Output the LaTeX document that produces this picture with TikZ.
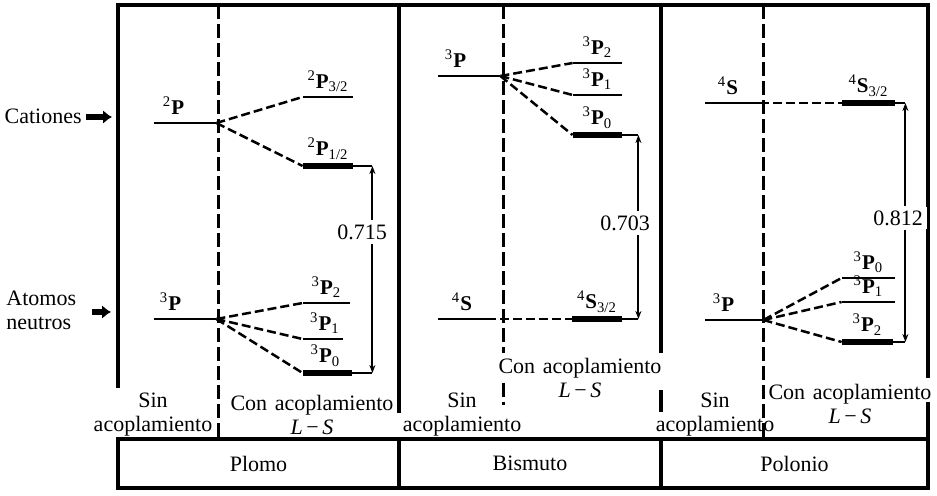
\documentclass[tikz,border=0pt]{standalone}
\usepackage{fontspec}
\setmainfont{Liberation Serif}
\usetikzlibrary{arrows.meta,positioning}
\newcommand{\lv}[3]{\textsuperscript{#1}\textbf{#2}\textsubscript{#3}}
\newcommand{\conLS}{Con\hspace{.35em}acoplamiento\\\textit{L}\,−\,\textit{S}}

\begin{document}
\begin{tikzpicture}[x=0.5pt, y=-0.5pt, font=\fontsize{11}{12}\selectfont,
  frame/.style={line width=1.6pt},
  sep/.style={line width=1.5pt, dash pattern=on 7pt off 2.5pt},
  lev/.style={fill, inner sep=0pt, minimum height=1.4pt, minimum width=#1},
  lev/.default=25pt,
  hlev/.style={lev=#1, minimum height=3pt},
  hlev/.default=25pt,
  lbl/.style={font=\fontsize{10.5}{12}\selectfont, inner sep=1.5pt},
  con/.style={line width=1.25pt, dash pattern=on 4.5pt off 2pt},
  tick/.style={line width=1pt},
  brk/.style={line width=1pt, -{Stealth[length=4pt, width=3pt]}},
  big/.style={line width=2.6pt, -{Latex[length=4.5pt, width=7pt]}},
  gap/.style={fill=white, inner sep=2pt}]
  \useasboundingbox (0,0) rectangle (937,496);
  % frame and panels
  \draw[frame] (118,388) -- (118,5) -- (928,5) -- (928,378);
  \draw[frame] (928,402) -- (928,439);
  \draw[frame] (118,439) rectangle (928,488);
  \draw[frame] (399,5) -- (399,413) (399,439) -- (399,488);
  \draw[frame] (661,5) -- (661,353) (661,390) -- (661,412) (661,439) -- (661,488);
  \draw[sep] (218,5) -- (218,439);
  \draw[sep] (503,5) -- (503,353) (503,383) -- (503,405);
  \draw[sep] (763,5) -- (763,437);
  % left labels
  \node[anchor=east, inner sep=2pt] (cat) at (86,116) {Cationes};
  \coordinate (catP) at (112,117);
  \draw[big] (cat.east |- catP) -- (catP);
  \node[anchor=west, align=left, inner sep=0pt] (neu) at (6,310) {Atomos\\neutros};
  \coordinate (neuA) at (92,312);
  \coordinate (neuP) at (111,312);
  \draw[big] (neuA) -- (neuP);
  % Plomo
  \node[lev=31pt, label={[lbl, xshift=-5.5pt]above:\lv{2}{P}{}}] (pbC) at (185,123) {};
  \node[lev, label={[lbl]above:\lv{2}{P}{3/2}}] (pbC32) at (328,97) {};
  \node[hlev, label={[lbl]above:\lv{2}{P}{1/2}}] (pbC12) at (328,166) {};
  \node[lev=31pt, label={[lbl, xshift=-7pt]above:\lv{3}{P}{}}] (pbN) at (185,319) {};
  \node[lev=23.5pt, label={[lbl]above:\lv{3}{P}{2}}] (pbN2) at (326.5,303) {};
  \node[lev=20pt, label={[lbl, xshift=1pt]above:\lv{3}{P}{1}}] (pbN1) at (323,339) {};
  \node[hlev=24.5pt, label={[lbl, xshift=-1pt]above:\lv{3}{P}{0}}] (pbN0) at (327.5,373) {};
  \foreach \t in {pbC32,pbC12} \draw[con] (pbC.east) -- (\t.west);
  \foreach \t in {pbN2,pbN1,pbN0} \draw[con] (pbN.east) -- (\t.west);
  \draw[tick] (pbC12.east) -- ++(19,0) coordinate (pbT);
  \draw[tick] (pbN0.east) -- (pbN0.east -| pbT) coordinate (pbB);
  \node[gap] (pbE) at (362,232) {0.715};
  \draw[brk] (pbE.north -| pbT) -- (pbT);
  \draw[brk] (pbE.south -| pbT) -- (pbB);
  % Bismuto
  \node[lev=31pt, label={[lbl, xshift=-6.5pt]above:\lv{3}{P}{}}] (biC) at (469,76) {};
  \node[lev=24.5pt, label={[lbl]above:\lv{3}{P}{2}}] (biC2) at (597.5,63) {};
  \node[lev=24.5pt, label={[lbl]above:\lv{3}{P}{1}}] (biC1) at (597.5,95) {};
  \node[hlev=24.5pt, label={[lbl]above:\lv{3}{P}{0}}] (biC0) at (597.5,135) {};
  \node[lev=24.5pt, label={[lbl]above:\lv{4}{S}{}}] (biN) at (462.5,319) {};
  \node[hlev, label={[lbl]above:\lv{4}{S}{3/2}}] (biN32) at (597,319) {};
  \foreach \t in {biC2,biC1,biC0} \draw[con] (biC.east) -- (\t.west);
  \draw[con] (biN.east) -- (biN32.west);
  \draw[tick] (biC0.east) -- ++(16,0) coordinate (biT);
  \draw[tick] (biN32.east) -- (biN32.east -| biT) coordinate (biB);
  \node[gap] (biE) at (625,223) {0.703};
  \draw[brk] (biE.north -| biT) -- (biT);
  \draw[brk] (biE.south -| biT) -- (biB);
  % Polonio
  \node[lev=27.5pt, label={[lbl, xshift=-2pt]above:\lv{4}{S}{}}] (poC) at (732.5,103) {};
  \node[hlev=26.5pt, label={[lbl]above:\lv{4}{S}{3/2}}] (poC32) at (868.5,103) {};
  \node[lev=29pt, label={[lbl, xshift=-5pt]above:\lv{3}{P}{}}] (poN) at (734,320) {};
  \node[lev=26.5pt, label={[lbl]above:\lv{3}{P}{0}}] (poN0) at (868.5,278) {};
  \node[lev=26.5pt, label={[lbl]above:\lv{3}{P}{1}}] (poN1) at (868.5,302) {};
  \node[hlev=25.5pt, label={[lbl]above:\lv{3}{P}{2}}] (poN2) at (867.5,342) {};
  \draw[con] (poC.east) -- (poC32.west);
  \foreach \t in {poN0,poN1,poN2} \draw[con] (poN.east) -- (\t.west);
  \draw[tick] (poC32.east) -- ++(10,0) coordinate (poT);
  \draw[tick] (poN2.east) -- (poN2.east -| poT) coordinate (poB);
  \node[gap] (poE) at (898,218) {0.812};
  \draw[brk] (poE.north -| poT) -- (poT);
  \draw[brk] (poE.south -| poT) -- (poB);
  % coupling captions
  \node[align=center, inner sep=0pt] (pbS) at (153,415) {Sin\\acoplamiento};
  \node[align=center, inner sep=0pt] (pbL) at (312,415) {\conLS};
  \node[align=center, inner sep=0pt] (biS) at (462,415) {Sin\\acoplamiento};
  \node[align=center, inner sep=0pt] (biL) at (580,378) {\conLS};
  \node[align=center, inner sep=0pt] (poS) at (715,415) {Sin\\acoplamiento};
  \node[align=center, inner sep=0pt] (poL) at (850,404) {\conLS};
  % element names
  \node (pb) at (258.5,463.5) {Plomo};
  \node (bi) at (530,463.5) {Bismuto};
  \node (po) at (794.5,463.5) {Polonio};
\end{tikzpicture}
\end{document}
